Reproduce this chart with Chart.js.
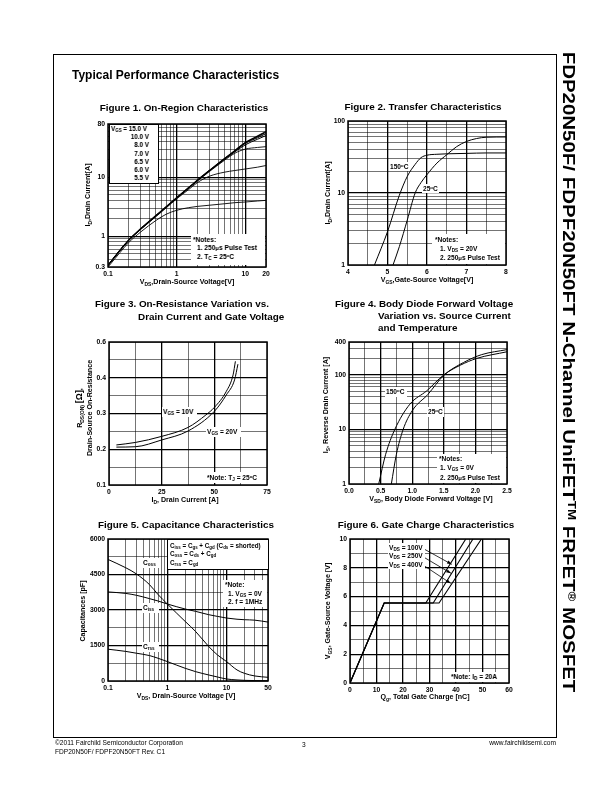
<!DOCTYPE html>
<html>
<head>
<meta charset="utf-8">
<script src="https://cdn.jsdelivr.net/npm/chart.js@4"></script>
<style>
body { margin:0; width:612px; height:792px; background:#fff; position:relative; overflow:hidden;
       font-family:'Liberation Sans', Arial, sans-serif; color:#000; filter:grayscale(100%); }
canvas { position:absolute; }
.t { position:absolute; white-space:nowrap; line-height:1; transform:translateY(-50%); font-weight:bold; }
.c { transform:translate(-50%,-50%); }
.r { transform:translate(-50%,-50%) rotate(-90deg); }
.fig { font-size:9.9px; }
.ax { font-size:7.1px; }
.an { font-size:6.6px; }
.sm { font-size:6.3px; }
.wb { position:absolute; background:#fff; }
sub { font-size:70%; vertical-align:-0.3em; line-height:0; }
sup { font-size:65%; vertical-align:0.5em; line-height:0; }
#frame { position:absolute; left:53px; top:54px; width:502px; height:682px; border:1px solid #000; }
.foot { position:absolute; font-size:6.6px; line-height:1; white-space:nowrap; }
</style>
</head>
<body>
<div id="frame"></div>

<div class="t" style="left:72px;top:75px;font-size:12px">Typical Performance Characteristics</div>

<!-- chart canvases -->
<canvas id="fig1"></canvas>
<canvas id="fig2"></canvas>
<canvas id="fig3"></canvas>
<canvas id="fig4"></canvas>
<canvas id="fig5"></canvas>
<canvas id="fig6"></canvas>

<!-- Figure 1 -->
<div class="t c fig" style="left:184px;top:108px">Figure 1. On-Region Characteristics</div>
<div class="wb" style="left:109px;top:124px;width:48px;height:58px;border:1px solid #000"></div>
<div class="t sm" style="left:111px;top:128.5px">V<sub>GS</sub> = 15.0 V</div>
<div class="t sm" style="right:463px;top:133px;text-align:right;line-height:8.3px;transform:none">10.0 V<br>8.0 V<br>7.0 V<br>6.5 V<br>6.0 V<br>5.5 V</div>
<div class="wb" style="left:191px;top:234px;width:74px;height:31px"></div>
<div class="t an" style="left:193px;top:239.5px">*Notes:</div>
<div class="t an" style="left:197px;top:248px">1. 250<span style="font-size:90%">&mu;</span>s Pulse Test</div>
<div class="t an" style="left:197px;top:256.8px">2. T<sub>C</sub> = 25<sup>o</sup>C</div>
<div class="t c ax" style="left:187px;top:283px">V<sub>DS</sub>,Drain-Source Voltage[V]</div>
<div class="t r ax" style="left:89px;top:195px">I<sub>D</sub>,Drain Current[A]</div>

<!-- Figure 2 -->
<div class="t c fig" style="left:423px;top:107px">Figure 2. Transfer Characteristics</div>
<div class="wb" style="left:389px;top:162px;width:20px;height:9px"></div>
<div class="t an" style="left:390px;top:166.5px">150<sup>o</sup>C</div>
<div class="wb" style="left:422px;top:184px;width:17px;height:9px"></div>
<div class="t an" style="left:423px;top:188.5px">25<sup>o</sup>C</div>
<div class="wb" style="left:432px;top:234px;width:73px;height:30px"></div>
<div class="t an" style="left:435px;top:239.5px">*Notes:</div>
<div class="t an" style="left:440px;top:248.5px">1. V<sub>DS</sub> = 20V</div>
<div class="t an" style="left:440px;top:257.5px">2. 250<span style="font-size:90%">&mu;</span>s Pulse Test</div>
<div class="t c ax" style="left:427px;top:281px">V<sub>GS</sub>,Gate-Source Voltage[V]</div>
<div class="t r ax" style="left:329px;top:193px">I<sub>D</sub>,Drain Current[A]</div>

<!-- Figure 3 -->
<div class="t fig" style="left:95px;top:304px">Figure 3. On-Resistance Variation vs.</div>
<div class="t fig" style="left:138px;top:317px">Drain Current and Gate Voltage</div>
<div class="wb" style="left:162px;top:407px;width:35px;height:10px"></div>
<div class="t an" style="left:163px;top:412px">V<sub>GS</sub> = 10V</div>
<div class="wb" style="left:206px;top:427px;width:35px;height:10px"></div>
<div class="t an" style="left:207px;top:432px">V<sub>GS</sub> = 20V</div>
<div class="wb" style="left:206px;top:472px;width:60px;height:11px"></div>
<div class="t an" style="left:207px;top:478px">*Note: T<sub>J</sub> = 25<sup>o</sup>C</div>
<div class="t c ax" style="left:185px;top:501px">I<sub>D</sub>, Drain Current [A]</div>
<div class="t r ax" style="left:80px;top:408px">R<sub>DS(ON)</sub> <span style="font-size:125%">[&Omega;]</span>,</div>
<div class="t r ax" style="left:91px;top:408px">Drain-Source On-Resistance</div>

<!-- Figure 4 -->
<div class="t fig" style="left:335px;top:304px">Figure 4. Body Diode Forward Voltage</div>
<div class="t fig" style="left:378px;top:316px">Variation vs. Source Current</div>
<div class="t fig" style="left:378px;top:328px">and Temperature</div>
<div class="wb" style="left:385px;top:387px;width:22px;height:10px"></div>
<div class="t an" style="left:386px;top:392px">150<sup>o</sup>C</div>
<div class="wb" style="left:427px;top:407px;width:17px;height:10px"></div>
<div class="t an" style="left:428px;top:412px">25<sup>o</sup>C</div>
<div class="wb" style="left:437px;top:454px;width:69px;height:29px"></div>
<div class="t an" style="left:439px;top:459px">*Notes:</div>
<div class="t an" style="left:440px;top:468px">1. V<sub>GS</sub> = 0V</div>
<div class="t an" style="left:440px;top:477.5px">2. 250<span style="font-size:90%">&mu;</span>s Pulse Test</div>
<div class="t c ax" style="left:431px;top:500px">V<sub>SD</sub>, Body Diode Forward Voltage [V]</div>
<div class="t r ax" style="left:327px;top:405px">I<sub>S</sub>, Reverse Drain Current [A]</div>

<!-- Figure 5 -->
<div class="t c fig" style="left:186px;top:525px">Figure 5. Capacitance Characteristics</div>
<div class="wb" style="left:167px;top:539px;width:100px;height:29px;border:1px solid #000"></div>
<div class="t sm" style="left:170px;top:546px">C<sub>iss</sub> = C<sub>gs</sub> + C<sub>gd</sub> (C<sub>ds</sub> = shorted)</div>
<div class="t sm" style="left:170px;top:554.3px">C<sub>oss</sub> = C<sub>ds</sub> + C<sub>gd</sub></div>
<div class="t sm" style="left:170px;top:562.6px">C<sub>rss</sub> = C<sub>gd</sub></div>
<div class="wb" style="left:142px;top:558px;width:17px;height:10px"></div>
<div class="t an" style="left:143px;top:563px">C<sub>oss</sub></div>
<div class="wb" style="left:142px;top:603px;width:17px;height:10px"></div>
<div class="t an" style="left:143px;top:608px">C<sub>iss</sub></div>
<div class="wb" style="left:142px;top:642px;width:17px;height:10px"></div>
<div class="t an" style="left:143px;top:647px">C<sub>rss</sub></div>
<div class="wb" style="left:223px;top:580px;width:44px;height:27px"></div>
<div class="t an" style="left:225px;top:585px">*Note:</div>
<div class="t an" style="left:228px;top:593.5px">1. V<sub>GS</sub> = 0V</div>
<div class="t an" style="left:228px;top:602px">2. f = 1MHz</div>
<div class="t c ax" style="left:186px;top:697px">V<sub>DS</sub>, Drain-Source Voltage [V]</div>
<div class="t r ax" style="left:84px;top:611px">Capacitances [pF]</div>

<!-- Figure 6 -->
<div class="t c fig" style="left:426px;top:525px">Figure 6. Gate Charge Characteristics</div>
<div class="wb" style="left:388px;top:543px;width:37px;height:26px"></div>
<div class="t an" style="left:389px;top:547.5px">V<sub>DS</sub> = 100V</div>
<div class="t an" style="left:389px;top:556px">V<sub>DS</sub> = 250V</div>
<div class="t an" style="left:389px;top:564.5px">V<sub>DS</sub> = 400V</div>
<div class="wb" style="left:449px;top:672px;width:58px;height:10px"></div>
<div class="t an" style="left:451px;top:677px">*Note: I<sub>D</sub> = 20A</div>
<div class="t c ax" style="left:425px;top:698px">Q<sub>g</sub>, Total Gate Charge [nC]</div>
<div class="t r ax" style="left:329px;top:611px">V<sub>GS</sub>, Gate-Source Voltage [V]</div>

<!-- side title and footer -->
<div id="side" class="t" style="left:568px;top:372px;font-size:16px">FDP20N50F/ FDPF20N50FT N-Channel UniFET<sup>TM</sup> FRFET<sup>&reg;</sup> MOSFET</div>
<div class="foot" style="left:55px;top:740px">&copy;2011 Fairchild Semiconductor Corporation</div>
<div class="foot" style="left:55px;top:749px">FDP20N50F/ FDPF20N50FT Rev. C1</div>
<div class="foot" style="left:302px;top:742px">3</div>
<div class="foot" style="right:56px;top:740px">www.fairchildsemi.com</div>

<script>
// Figure 1: On-region (ID vs VDS, per VGS)
const f1Vds = [0.1, 0.15, 0.2, 0.3, 0.5, 0.7, 1, 1.5, 2, 3, 5, 7, 10, 15, 20];
const f1Id150 = [0.32, 0.58, 0.86, 1.34, 2.24, 3.15, 4.5, 6.7, 8.9, 13.0, 20.8, 28.2, 39, 50, 60];
const f1Id100 = [0.32, 0.58, 0.86, 1.34, 2.24, 3.15, 4.5, 6.7, 8.9, 13.0, 20.8, 28.0, 38.5, 48.5, 58];
const f1Id80 = [0.32, 0.58, 0.86, 1.33, 2.23, 3.13, 4.47, 6.65, 8.85, 12.9, 20.5, 27.5, 37.5, 46.5, 55];
const f1Id70 = [0.32, 0.58, 0.85, 1.32, 2.21, 3.1, 4.43, 6.6, 8.75, 12.8, 20.2, 26.8, 35.5, 44, 51];
const f1Id65 = [0.32, 0.58, 0.85, 1.32, 2.2, 3.08, 4.4, 6.5, 8.6, 12.5, 19.5, 25.5, 30, 32, 33];
const f1Id60 = [0.32, 0.57, 0.84, 1.3, 2.15, 3.0, 4.3, 6.2, 8.1, 10.4, 12.2, 13.0, 13.8, 14.8, 15.8];
const f1Id55 = [0.3, 0.53, 0.78, 1.18, 1.85, 2.35, 2.75, 3.05, 3.2, 3.35, 3.55, 3.7, 3.8, 3.95, 4.05];
const f1XTicks = [0.1, 0.2, 0.3, 0.4, 0.5, 0.6, 0.7, 0.8, 0.9, 1, 2, 3, 4, 5, 6, 7, 8, 9, 10, 20];
const f1XLabels = [0.1, 1, 10, 20];
const f1YTicks = [0.3, 0.4, 0.5, 0.6, 0.7, 0.8, 0.9, 1, 2, 3, 4, 5, 6, 7, 8, 9, 10, 20, 30, 40, 50, 60, 70, 80];
const f1YLabels = [0.3, 1, 10, 80];

// Figure 2: Transfer (ID vs VGS)
const f2Vgs150 = [4.67, 5.0, 5.3, 5.5, 5.7, 5.85, 6.0, 6.25, 6.5, 7.0, 7.5, 8.0];
const f2Id150 = [1, 2.9, 9.3, 17, 25, 31, 33.5, 34.5, 35, 35.5, 36, 36];
const f2Vgs25 = [5.14, 5.3, 5.5, 5.7, 5.85, 6.0, 6.25, 6.5, 6.75, 7.0, 7.25, 7.5, 8.0];
const f2Id25 = [1, 1.8, 4.2, 10, 14, 18, 26, 34, 44, 52, 57, 59.5, 60];
const f2XTicks = [4, 4.5, 5, 5.5, 6, 6.5, 7, 7.5, 8];
const f2XLabels = [4, 5, 6, 7, 8];
const f2YTicks = [1, 2, 3, 4, 5, 6, 7, 8, 9, 10, 20, 30, 40, 50, 60, 70, 80, 90, 100];
const f2YLabels = [1, 10, 100];

// Figure 3: On-resistance vs drain current
const f3Id10 = [3.5, 12.5, 25, 37.5, 46, 50, 55.7, 58.9, 60];
const f3R10 = [0.212, 0.219, 0.236, 0.261, 0.296, 0.317, 0.362, 0.408, 0.446];
const f3Id20 = [3.5, 12.5, 25, 37.5, 50, 55.7, 59.6, 61.2];
const f3R20 = [0.206, 0.207, 0.226, 0.251, 0.306, 0.352, 0.394, 0.438];
const f3XTicks = [0, 12.5, 25, 37.5, 50, 62.5, 75];
const f3XLabels = [0, 25, 50, 75];
const f3YTicks = [0.1, 0.15, 0.2, 0.25, 0.3, 0.35, 0.4, 0.45, 0.5];
const f3YLabels = [0.1, 0.2, 0.3, 0.4, 0.5];
const f3YText = ['0.1', '0.2', '0.3', '0.4', '0.6'];

// Figure 4: Body diode forward voltage
const f4Vsd150 = [0.47, 0.58, 0.725, 0.963, 1.23, 1.5, 1.76, 2.02, 2.5];
const f4Is150 = [1, 3.5, 10, 29, 51, 100, 150, 200, 265];
const f4Vsd25 = [0.67, 0.75, 0.857, 1.0, 1.25, 1.5, 1.81, 2.1, 2.5];
const f4Is25 = [1, 3.5, 10, 22, 44, 98, 168, 235, 290];
const f4XTicks = [0, 0.25, 0.5, 0.75, 1, 1.25, 1.5, 1.75, 2, 2.25, 2.5];
const f4XLabels = [0, 0.5, 1, 1.5, 2, 2.5];
const f4YTicks = [1, 2, 3, 4, 5, 6, 7, 8, 9, 10, 20, 30, 40, 50, 60, 70, 80, 90, 100, 200, 300, 400];
const f4YLabels = [1, 10, 100, 400];

// Figure 5: Capacitance
const f5Vds = [0.1, 0.2, 0.3, 0.5, 0.7, 1, 2, 3, 5, 7, 10, 15, 20, 30, 50];
const f5Upper = [5137, 4783, 4528, 4075, 3651, 3255, 2519, 2094, 1458, 1104, 821, 467, 325, 212, 156];
const f5Middle = [3764, 3700, 3623, 3481, 3380, 3255, 3042, 2943, 2802, 2730, 2660, 2610, 2590, 2570, 2490];
const f5Lower = [1344, 1250, 1175, 1075, 960, 821, 538, 396, 255, 170, 85, 45, 28, 18, 14];
const f5XTicks = [0.1, 0.2, 0.3, 0.4, 0.5, 0.6, 0.7, 0.8, 0.9, 1, 2, 3, 4, 5, 6, 7, 8, 9, 10, 20, 30, 40, 50];
const f5XLabels = [0.1, 1, 10, 50];
const f5YTicks = [0, 750, 1500, 2250, 3000, 3750, 4500, 5250, 6000];
const f5YLabels = [0, 1500, 3000, 4500, 6000];

// Figure 6: Gate charge
const f6Qg100 = [0, 12.9, 28.6, 43.7];
const f6Qg250 = [0, 12.9, 31.4, 46.4];
const f6Qg400 = [0, 12.9, 33.6, 49.6];
const f6Vgs = [0, 5.56, 5.56, 10];
const f6XTicks = [0, 5, 10, 15, 20, 25, 30, 35, 40, 45, 50, 55, 60];
const f6XLabels = [0, 10, 20, 30, 40, 50, 60];
const f6YTicks = [0, 1, 2, 3, 4, 5, 6, 7, 8, 9, 10];
const f6YLabels = [0, 2, 4, 6, 8, 10];

// stretch the side title to the length it has on the page
const side = document.getElementById('side');
side.style.transform = 'translate(-50%,-50%) rotate(90deg) scaleX(' + (641 / side.offsetWidth).toFixed(3) + ')';

Chart.defaults.font.family = "'Liberation Sans', Arial, sans-serif";
Chart.defaults.font.size = 6.8;
Chart.defaults.font.weight = 'bold';
Chart.defaults.color = '#000';
Chart.defaults.animation = false;

// black box round the plot area
const plotFrame = {
    id: 'plotFrame',
    afterDraw(chart) {
        const a = chart.chartArea, c = chart.ctx;
        c.save();
        c.strokeStyle = '#000';
        c.lineWidth = 1.5;
        c.strokeRect(a.left, a.top, a.right - a.left, a.bottom - a.top);
        c.restore();
    }
};

function pts(xs, ys) {
    return xs.map((x, i) => ({ x: x, y: ys[i] }));
}

function line(xs, ys, w, smooth) {
    return {
        data: pts(xs, ys),
        showLine: true,
        borderColor: '#000',
        borderWidth: w,
        pointRadius: 0,
        cubicInterpolationMode: smooth ? 'monotone' : 'default',
        tension: 0
    };
}

function axis(isX, type, min, max, gridVals, majors, labels, fmt) {
    return {
        type: type, min: min, max: max,
        position: isX ? 'bottom' : 'left',
        afterBuildTicks: s => { s.ticks = gridVals.map(v => ({ value: v })); },
        afterFit: s => { if (isX) s.height = 14; else s.width = 30; },
        grid: {
            color: '#000',
            lineWidth: c => (c.tick && majors.includes(c.tick.value)) ? 1.3 : 0.55,
            drawTicks: false
        },
        border: { display: false },
        ticks: {
            autoSkip: false, maxRotation: 0, minRotation: 0, padding: 3,
            callback: v => labels.includes(v) ? fmt(v) : ''
        }
    };
}

// plot area boxes on the page: left, top, right, bottom
function makeChart(id, box, datasets, xAxis, yAxis, extra) {
    const cv = document.getElementById(id);
    cv.width = box[2] - box[0] + 45;
    cv.height = box[3] - box[1] + 22;
    cv.style.left = (box[0] - 30) + 'px';
    cv.style.top = (box[1] - 8) + 'px';
    return new Chart(cv, {
        type: 'scatter',
        data: { datasets: datasets },
        options: {
            responsive: false,
            devicePixelRatio: 1,
            layout: { padding: { left: 0, top: 8, right: 15, bottom: 0 } },
            plugins: { legend: { display: false }, tooltip: { enabled: false } },
            scales: { x: xAxis, y: yAxis }
        },
        plugins: [plotFrame].concat(extra || [])
    });
}

const str = v => String(v);

makeChart('fig1', [108, 124, 266, 267], [
    line(f1Vds, f1Id150, 1.1, true),
    line(f1Vds, f1Id100, 1.1, true),
    line(f1Vds, f1Id80, 1.0, true),
    line(f1Vds, f1Id70, 1.0, true),
    line(f1Vds, f1Id65, 0.9, true),
    line(f1Vds, f1Id60, 0.9, true),
    line(f1Vds, f1Id55, 0.9, true)
], axis(true, 'logarithmic', 0.1, 20, f1XTicks, [1, 10], f1XLabels, str),
   axis(false, 'logarithmic', 0.3, 80, f1YTicks, [1, 10], f1YLabels, str));

makeChart('fig2', [348, 121, 506, 265], [
    line(f2Vgs150, f2Id150, 1.0, true),
    line(f2Vgs25, f2Id25, 1.0, true)
], axis(true, 'linear', 4, 8, f2XTicks, [5, 6, 7], f2XLabels, str),
   axis(false, 'logarithmic', 1, 100, f2YTicks, [10], f2YLabels, str));

makeChart('fig3', [109, 342, 267, 485], [
    line(f3Id10, f3R10, 1.0, true),
    line(f3Id20, f3R20, 1.0, true)
], axis(true, 'linear', 0, 75, f3XTicks, [25, 50], f3XLabels, str),
   axis(false, 'linear', 0.1, 0.5, f3YTicks, [0.2, 0.3, 0.4], f3YLabels, v => f3YText[f3YLabels.indexOf(v)]));

makeChart('fig4', [349, 342, 507, 484], [
    line(f4Vsd150, f4Is150, 1.0, true),
    line(f4Vsd25, f4Is25, 1.0, true)
], axis(true, 'linear', 0, 2.5, f4XTicks, [0.5, 1, 1.5, 2], f4XLabels, v => v.toFixed(1)),
   axis(false, 'logarithmic', 1, 400, f4YTicks, [10, 100], f4YLabels, str));

makeChart('fig5', [108, 539, 268, 681], [
    line(f5Vds, f5Upper, 1.0, true),
    line(f5Vds, f5Middle, 1.0, true),
    line(f5Vds, f5Lower, 1.0, true)
], axis(true, 'logarithmic', 0.1, 50, f5XTicks, [1, 10], f5XLabels, str),
   axis(false, 'linear', 0, 6000, f5YTicks, [1500, 3000, 4500], f5YLabels, str));

// arrows from the VDS labels to the curves in figure 6 (data coords)
const gateArrows = {
    id: 'gateArrows',
    afterDatasetsDraw(chart) {
        const sx = chart.scales.x, sy = chart.scales.y, c = chart.ctx;
        [[28, 9.3, 38.4, 8.24], [28, 8.72, 38.1, 7.62], [28, 8.14, 38.0, 6.92]].forEach(a => {
            const x1 = sx.getPixelForValue(a[0]), y1 = sy.getPixelForValue(a[1]);
            const x2 = sx.getPixelForValue(a[2]), y2 = sy.getPixelForValue(a[3]);
            const ang = Math.atan2(y2 - y1, x2 - x1);
            c.save();
            c.strokeStyle = '#000';
            c.fillStyle = '#000';
            c.lineWidth = 0.8;
            c.beginPath(); c.moveTo(x1, y1); c.lineTo(x2, y2); c.stroke();
            c.beginPath();
            c.moveTo(x2, y2);
            c.lineTo(x2 - 5 * Math.cos(ang - 0.35), y2 - 5 * Math.sin(ang - 0.35));
            c.lineTo(x2 - 5 * Math.cos(ang + 0.35), y2 - 5 * Math.sin(ang + 0.35));
            c.closePath(); c.fill();
            c.restore();
        });
    }
};

makeChart('fig6', [350, 539, 509, 683], [
    line(f6Qg100, f6Vgs, 1.1, false),
    line(f6Qg250, f6Vgs, 1.1, false),
    line(f6Qg400, f6Vgs, 1.1, false)
], axis(true, 'linear', 0, 60, f6XTicks, [10, 20, 30, 40, 50], f6XLabels, str),
   axis(false, 'linear', 0, 10, f6YTicks, [2, 4, 6, 8], f6YLabels, str), [gateArrows]);
</script>
</body>
</html>
